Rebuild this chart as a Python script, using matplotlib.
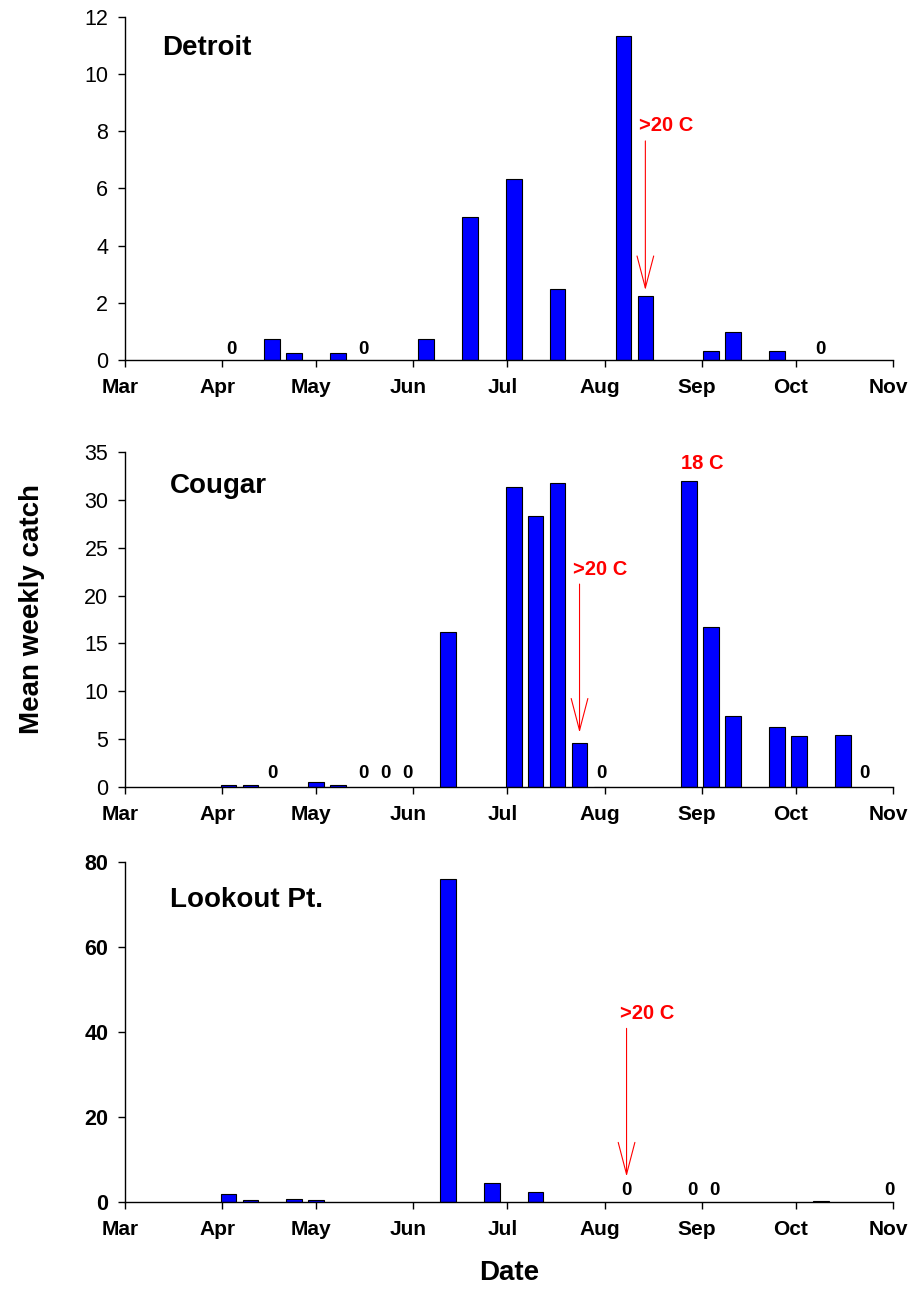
import numpy as np
import matplotlib
matplotlib.use("Agg")
import matplotlib.pyplot as plt
import matplotlib.dates as mdates
import matplotlib.transforms as mtransforms

plt.rcParams["font.family"] = ["Liberation Sans", "DejaVu Sans"]

# --- data (weekly sampling dates, mean weekly catch) ---
detroit_dates = ["2005-04-17", "2005-04-24", "2005-05-08", "2005-06-05", "2005-06-19", "2005-07-03",
                 "2005-07-17", "2005-08-07", "2005-08-14", "2005-09-04", "2005-09-11", "2005-09-25"]
detroit_catch = [0.75, 0.25, 0.25, 0.75, 5.0, 6.33, 2.5, 11.33, 2.25, 0.33, 1.0, 0.33]
detroit_zeros = ["2005-04-04", "2005-05-16", "2005-10-09"]

cougar_dates = ["2005-04-03", "2005-04-10", "2005-05-01", "2005-05-08", "2005-06-12", "2005-07-03",
                "2005-07-10", "2005-07-17", "2005-07-24", "2005-07-31", "2005-08-28", "2005-09-04",
                "2005-09-11", "2005-09-25", "2005-10-02", "2005-10-16"]
cougar_catch = [0.25, 0.25, 0.5, 0.25, 16.25, 31.3, 28.25, 31.75, 4.6, 0.08, 32.0, 16.7,
                7.4, 6.25, 5.4, 5.45]
cougar_zeros = ["2005-04-17", "2005-05-16", "2005-05-23", "2005-05-30", "2005-07-31", "2005-10-23"]

lookout_dates = ["2005-04-03", "2005-04-10", "2005-04-24", "2005-05-01", "2005-06-12", "2005-06-26",
                 "2005-07-10", "2005-10-09"]
lookout_catch = [2.0, 0.5, 0.6, 0.5, 76.0, 4.5, 2.25, 0.2]
lookout_zeros = ["2005-08-08", "2005-08-29", "2005-09-05", "2005-10-31"]

# temperature notes: (date of arrow, text y, arrow top, arrow tip)
detroit_temp = ("2005-08-14", 8.0, 7.66, 2.45)
cougar_temp = ("2005-07-24", 22.1, 21.2, 5.7)
lookout_temp = ("2005-08-08", 43.0, 40.9, 6.0)
cougar_note = ("2005-09-01", 33.2, "18 C")

panels = [
    ("Detroit", detroit_dates, detroit_catch, detroit_zeros, detroit_temp, 12, 2, False,
     [0.1375, 0.7207, 0.8449, 0.2664], 0.889, 2),
    ("Cougar", cougar_dates, cougar_catch, cougar_zeros, cougar_temp, 35, 5, False,
     [0.1375, 0.3897, 0.8449, 0.2601], 0.878, 4),
    ("Lookout Pt.", lookout_dates, lookout_catch, lookout_zeros, lookout_temp, 80, 20, True,
     [0.1375, 0.0682, 0.8449, 0.2633], 0.869, 2),
]

fig = plt.figure(figsize=(9.09, 12.9), dpi=100)
shift = mtransforms.ScaledTranslation(-5 / 100, 0, fig.dpi_scale_trans)

for (name, dates, catch, zeros, temp, ymax, ystep, boldy, rect, ty, zoff) in panels:
    ax = fig.add_axes(rect)
    d = np.array(dates, dtype="datetime64[D]")
    ax.bar(d, catch, width=5, color="#0000FF", edgecolor="black", linewidth=0.8, zorder=3)

    for z in np.array(zeros, dtype="datetime64[D]"):
        ax.annotate("0", xy=(z, 0), xytext=(0, zoff), textcoords="offset points",
                    ha="center", va="bottom", fontsize=13.5, fontweight="bold")

    td = np.datetime64(temp[0])
    ax.annotate("", xy=(td, temp[3]), xytext=(td, temp[2]),
                arrowprops=dict(arrowstyle="->,head_length=2.3,head_width=0.6", mutation_scale=10,
                                color="red", lw=0.8, shrinkA=0, shrinkB=0))
    ax.annotate(">20 C", xy=(td, temp[1]), xytext=(-4.5, 0), textcoords="offset points",
                ha="left", va="baseline", color="red", fontsize=14.5, fontweight="bold")

    if name == "Cougar":
        ax.text(np.datetime64(cougar_note[0]), cougar_note[1], cougar_note[2], ha="center",
                va="baseline", color="red", fontsize=14.5, fontweight="bold")

    ax.text(0.048 if name == "Detroit" else 0.0586, ty, name, transform=ax.transAxes,
            fontsize=20, fontweight="bold", va="baseline")

    ax.set_xlim(np.datetime64("2005-03-01"), np.datetime64("2005-11-01"))
    ax.set_ylim(0, ymax)
    ax.set_yticks(np.arange(0, ymax + 1, ystep))
    ax.xaxis.set_major_locator(mdates.MonthLocator())
    ax.xaxis.set_major_formatter(mdates.DateFormatter("%b"))
    for s in ("top", "right"):
        ax.spines[s].set_visible(False)
    for s in ("left", "bottom"):
        ax.spines[s].set_linewidth(1.0)
        ax.spines[s].set_zorder(4)
    ax.tick_params(axis="x", direction="out", length=5, width=1, pad=8, labelsize=15)
    ax.tick_params(axis="y", direction="out", length=5, width=1, pad=7, labelsize=15.5)
    for lab in ax.get_xticklabels():
        lab.set_fontweight("bold")
        lab.set_transform(lab.get_transform() + shift)
    if boldy:
        for lab in ax.get_yticklabels():
            lab.set_fontweight("bold")

fig.text(32 / 909, 1 - 609 / 1290, "Mean weekly catch", rotation=90, ha="center", va="center",
         fontsize=20, fontweight="bold")
fig.text(509 / 909, 1 - 1273 / 1290, "Date", ha="center", va="center",
         fontsize=20, fontweight="bold")

fig.savefig("out.png", dpi=100)
